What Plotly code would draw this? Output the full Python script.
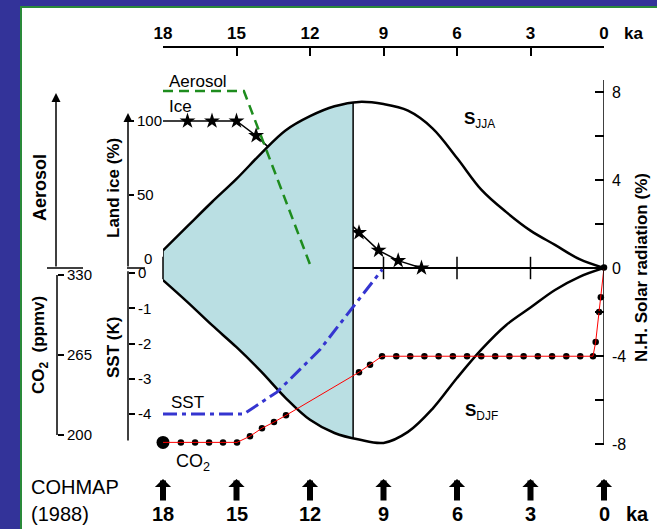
import plotly.graph_objects as go

W, H = 657, 529
FONT = "Liberation Sans, Arial, Helvetica, sans-serif"

# ---------------- data ----------------
solar_ka = [18, 17, 16, 15, 14, 13, 12, 11, 10, 9, 8, 7, 6, 5, 4, 3, 2, 1, 0]
s_jja = [0.8, 1.9, 3.0, 4.05, 5.2, 6.25, 6.9, 7.35, 7.55, 7.45, 7.15, 6.35, 5.0, 3.55, 2.55, 1.7, 1.05, 0.4, 0.0]
s_djf = [-0.55, -1.55, -2.6, -3.6, -4.7, -5.9, -6.9, -7.5, -7.8, -7.95, -7.45, -6.4, -5.0, -3.7, -2.6, -1.8, -1.0, -0.4, 0.0]
shade_end_ka = 10.24
shade_end_jja = 7.55
shade_end_djf = -7.75

ice_ka = [18, 17, 16, 15, 14.2, 10.0, 9.2, 8.4, 7.45]
ice_pct = [100, 100, 100, 100, 90, 24, 12, 5, 0]

aer_ka = [18, 14.7, 12.0]
aer_rel = [1.0, 1.0, 0.02]

sst_ka = [18, 14.7, 13.35, 11.6, 10.24, 9.05]
sst_k = [-4, -4, -3.38, -2.18, -0.96, 0.1]

co2_ka = [18.0, 17.27, 16.69, 16.12, 15.55, 14.98, 14.45, 13.96, 13.47, 12.98, 10.0, 9.55,
          9.06, 8.48, 7.91, 7.33, 6.75, 6.17, 5.59, 5.01, 4.44, 3.86, 3.28, 2.70, 2.12, 1.54, 0.97, 0.45,
          0.34, 0.2, 0.13, 0.0]
co2_ppmv = [194, 194, 194, 194, 194, 194, 199, 205.5, 210.5, 216, 251, 257,
            264, 264, 264, 264, 264, 264, 264, 264, 264, 264, 264, 264, 264, 264, 264, 264,
            275.5, 300, 312, 336]

top_ticks_ka = [18, 15, 12, 9, 6, 3, 0]
cohmap_ka = [18, 15, 12, 9, 6, 3, 0]
zero_tick_ka = [18, 15, 12, 9, 6, 3]
solar_ticks = [8, 4, 0, -4, -8]
solar_ticktext = ["8", "4", "0", "-4", "-8"]
solar_minor = [6, 2, -2, -6]
ice_ticks = [50, 100]
sst_ticks = [0, -1, -2, -3, -4]
sst_ticktext = ["0", "-1", "-2", "-3", "-4"]
co2_ticks = [330, 265, 200]


# ---------------- pixel helpers (layout only) ----------------
def pxr(v1, p1, v2, p2):
    s = (v2 - v1) / (p2 - p1)
    return [v1 + s * (H - p1), v1 + s * (0 - p1)]


def fx(p):
    return p / W


def fy(p):
    return 1 - p / H


ICE_R = pxr(100, 121, 0, 268)
CO2_R = pxr(330, 275, 200, 435)
SOL_R = pxr(8, 92, -8, 444)
SST_R = pxr(0, 273, -4, 414)
AER_R = pxr(0, 268, 1, 91)

fig = go.Figure()

# layer 1: land ice (base subplot)
fig.add_trace(go.Scatter(x=ice_ka, y=ice_pct, mode="lines", line=dict(color="black", width=1.5),
                         xaxis="x", yaxis="y", hoverinfo="skip"))
fig.add_trace(go.Scatter(x=ice_ka[1:], y=ice_pct[1:], mode="markers", cliponaxis=False,
                         marker=dict(symbol="star", size=12, color="black"),
                         xaxis="x", yaxis="y", hoverinfo="skip"))
# layer 2: CO2 dots
fig.add_trace(go.Scatter(x=co2_ka, y=co2_ppmv, mode="markers", cliponaxis=False,
                         marker=dict(size=6.5, color="black"), xaxis="x", yaxis="y2", hoverinfo="skip"))
fig.add_trace(go.Scatter(x=[co2_ka[0]], y=[co2_ppmv[0]], mode="markers", cliponaxis=False,
                         marker=dict(size=13, color="black"), xaxis="x", yaxis="y2", hoverinfo="skip"))
# layer 3: solar radiation
fig.add_trace(go.Scatter(x=zero_tick_ka, y=[0] * len(zero_tick_ka), mode="markers", cliponaxis=False,
                         marker=dict(symbol="line-ns", size=16, line=dict(width=1.5, color="black")),
                         xaxis="x", yaxis="y3", hoverinfo="skip"))
sh_x = [k for k in solar_ka if k > shade_end_ka] + [shade_end_ka]
sh_lo = [v for k, v in zip(solar_ka, s_djf) if k > shade_end_ka] + [shade_end_djf]
sh_hi = [v for k, v in zip(solar_ka, s_jja) if k > shade_end_ka] + [shade_end_jja]
fig.add_trace(go.Scatter(x=sh_x, y=sh_lo, mode="lines", line=dict(width=0, shape="spline"),
                         xaxis="x", yaxis="y3", hoverinfo="skip"))
fig.add_trace(go.Scatter(x=sh_x, y=sh_hi, mode="lines", line=dict(width=0, shape="spline"),
                         fill="tonexty", fillcolor="#badfe3", xaxis="x", yaxis="y3", hoverinfo="skip"))
fig.add_trace(go.Scatter(x=[solar_ka[0], solar_ka[0], None, shade_end_ka, shade_end_ka],
                         y=[s_djf[0], s_jja[0], None, shade_end_djf, shade_end_jja],
                         mode="lines", line=dict(color="black", width=1.5),
                         xaxis="x", yaxis="y3", hoverinfo="skip"))
fig.add_trace(go.Scatter(x=solar_ka, y=s_jja, mode="lines", line=dict(color="black", width=2.5, shape="spline"),
                         xaxis="x", yaxis="y3", hoverinfo="skip"))
fig.add_trace(go.Scatter(x=solar_ka, y=s_djf, mode="lines", line=dict(color="black", width=2.5, shape="spline"),
                         xaxis="x", yaxis="y3", hoverinfo="skip"))
# layer 4: SST
fig.add_trace(go.Scatter(x=sst_ka, y=sst_k, mode="lines",
                         line=dict(color="#3535d0", width=3, dash="14px,5px,4px,5px"),
                         xaxis="x", yaxis="y4", hoverinfo="skip"))
# layer 5: aerosol
fig.add_trace(go.Scatter(x=aer_ka, y=aer_rel, mode="lines",
                         line=dict(color="#1e8c1e", width=2.5, dash="10px,6px"),
                         xaxis="x", yaxis="y5", hoverinfo="skip"))
# layer 6: CO2 red line
fig.add_trace(go.Scatter(x=co2_ka, y=co2_ppmv, mode="lines", line=dict(color="#ff0000", width=1),
                         xaxis="x", yaxis="y6", hoverinfo="skip"))

tick_common = dict(showgrid=False, zeroline=False, automargin=False, tickcolor="black",
                   tickwidth=1.5, tickfont=dict(family=FONT, size=15, color="black"))

fig.update_layout(
    width=W, height=H, autosize=False, template="none",
    margin=dict(l=0, r=0, t=0, b=0, pad=0),
    paper_bgcolor="#333399", plot_bgcolor="rgba(0,0,0,0)",
    showlegend=False, font=dict(family=FONT, color="black"),
    xaxis=dict(domain=[fx(163), fx(604)], range=[18, 0], side="top", anchor="free", position=fy(47),
               showline=True, linecolor="black", linewidth=1.5, ticks="inside", ticklen=8,
               tickvals=top_ticks_ka, ticktext=[f"<b>{v}</b>" for v in top_ticks_ka],
               **{**tick_common, "tickfont": dict(family=FONT, size=17, color="black")}),
    yaxis=dict(domain=[0, 1], range=ICE_R, anchor="free", position=fx(128), side="right",
               showline=False, ticks="outside", ticklen=5, tickvals=ice_ticks,
               ticktext=[str(v) for v in ice_ticks], **tick_common),
    yaxis2=dict(range=CO2_R, overlaying="y", anchor="free", position=fx(57), side="right",
                showline=False, ticks="outside", ticklen=6, tickvals=co2_ticks,
                ticktext=[str(v) for v in co2_ticks], **tick_common),
    yaxis3=dict(range=SOL_R, overlaying="y", anchor="free", position=fx(604), side="right",
                showline=False, ticks="inside", ticklen=9, tickvals=solar_ticks, ticktext=solar_ticktext,
                ticklabelstandoff=7,
                minor=dict(tickvals=solar_minor, ticks="inside", ticklen=9, tickwidth=1.5,
                           tickcolor="black", showgrid=False),
                showgrid=False, zeroline=True, zerolinecolor="black", zerolinewidth=1.5,
                automargin=False, tickcolor="black", tickwidth=1.5,
                tickfont=dict(family=FONT, size=16, color="black")),
    yaxis4=dict(range=SST_R, overlaying="y", anchor="free", position=fx(128), side="right",
                showline=False, ticks="outside", ticklen=6, tickvals=sst_ticks, ticktext=sst_ticktext,
                **tick_common),
    yaxis5=dict(range=AER_R, overlaying="y", anchor="free", position=fx(56), visible=False),
    yaxis6=dict(range=CO2_R, overlaying="y", anchor="free", position=fx(57), visible=False),
)

shapes = [
    dict(type="rect", xref="paper", yref="paper", x0=fx(21), x1=1.02, y0=-0.02, y1=fy(7),
         fillcolor="white", line=dict(color="#2a8a3a", width=2), layer="below"),
    dict(type="line", xref="paper", yref="y5", x0=fx(47), x1=fx(83), y0=0, y1=0,
         line=dict(color="black", width=1.5)),
    dict(type="line", xref="paper", yref="y", x0=fx(127), x1=fx(145), y0=0, y1=0,
         line=dict(color="black", width=1.5)),
    dict(type="line", xref="paper", yref="y4", x0=fx(128), x1=fx(128), y0=0.05, y1=-4.75,
         line=dict(color="black", width=1.5)),
    dict(type="line", xref="paper", yref="y2", x0=fx(57), x1=fx(57), y0=330, y1=200,
         line=dict(color="black", width=1.5)),
    dict(type="line", xref="x", yref="y3", x0=0, x1=0, y0=-8, y1=8.55,
         line=dict(color="black", width=1.5)),
]

ann = []


def txt(t, x, y, size, angle=0, xanchor="center", bold=False):
    ann.append(dict(text=(f"<b>{t}</b>" if bold else t), x=fx(x), y=fy(y), xref="paper", yref="paper",
                    showarrow=False, textangle=angle, xanchor=xanchor, yanchor="middle",
                    font=dict(family=FONT, size=size, color="black")))


txt("ka", 633, 33, 17, bold=True)
txt("N.H. Solar radiation (%)", 641, 268, 17, angle=-90, bold=True)
txt("Aerosol", 40, 188, 18, angle=-90, bold=True)
txt("Land ice (%)", 113, 188, 17, angle=-90, bold=True)
txt("CO<sub>2</sub>  (ppmv)", 40, 345, 17, angle=-90, bold=True)
txt("SST (K)", 113, 348, 17, angle=-90, bold=True)
txt("Aerosol", 167, 81, 17, xanchor="left")
txt("Ice", 167, 107, 17, xanchor="left")
txt("SST", 169, 402, 17, xanchor="left")
txt("CO<sub>2</sub>", 174, 462, 18, xanchor="left")
txt("<b>S</b><sub>JJA</sub>", 462, 120, 17, xanchor="left")
txt("<b>S</b><sub>DJF</sub>", 463, 412, 17, xanchor="left")
txt("0", 148, 258, 15)
txt("COHMAP", 29, 487, 20, xanchor="left")
txt("(1988)", 29, 514, 20, xanchor="left")
txt("ka", 637, 514, 20, bold=True)

# axis arrows
ann.append(dict(text="", x=fx(56), xref="paper", y=(268 - 93) / (268 - 91), yref="y5",
                ax=0, axref="pixel", ay=0, ayref="y5", showarrow=True, arrowhead=2,
                arrowsize=1.2, arrowwidth=1.5, arrowcolor="black"))
ann.append(dict(text="", x=fx(128), xref="paper", y=(268 - 113) / 1.47, yref="y",
                ax=0, axref="pixel", ay=0, ayref="y", showarrow=True, arrowhead=2,
                arrowsize=1.2, arrowwidth=1.5, arrowcolor="black"))

# COHMAP arrows with their labels at the tails
for k in cohmap_ka:
    ann.append(dict(text=f"<b>{k}</b>", x=k, xref="x", y=fy(479), yref="paper", ax=0, ay=35,
                    showarrow=True, arrowhead=1, arrowsize=0.45, arrowwidth=6, arrowcolor="black",
                    standoff=0, startstandoff=2, borderpad=0,
                    font=dict(family=FONT, size=20, color="black")))

fig.update_layout(shapes=shapes, annotations=ann)
fig.write_html("out.html", config={"displayModeBar": False},
               post_script="document.body.style.margin='0px';document.body.style.padding='0px';")
